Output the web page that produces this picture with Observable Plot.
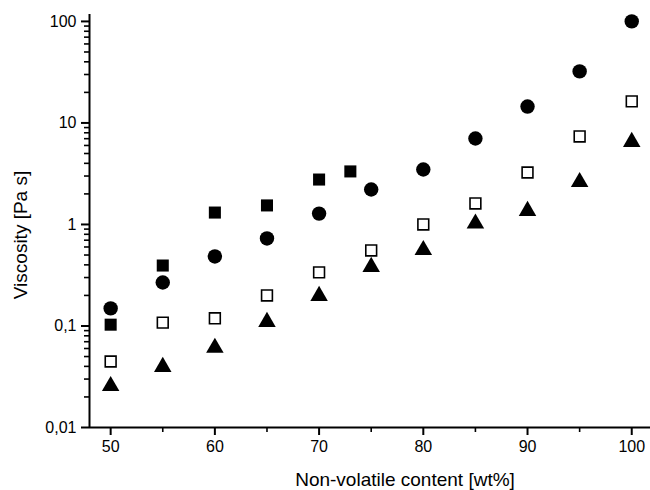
<!DOCTYPE html>
<html>
<head>
<meta charset="utf-8">
<script src="https://cdn.jsdelivr.net/npm/d3@7"></script>
<script src="https://cdn.jsdelivr.net/npm/@observablehq/plot@0.6"></script>
<style>
  html, body { margin: 0; padding: 0; background: #fff; }
</style>
</head>
<body>
<div id="chart"></div>
<script>
// Data
const contents = [50, 55, 60, 65, 70, 75, 80, 85, 90, 95, 100];
const circleVisc = [0.149, 0.268, 0.484, 0.728, 1.28, 2.21, 3.48, 7.03, 14.5, 32.2, 100];
const filledSqContent = [50, 55, 60, 65, 70, 73];
const filledSqVisc = [0.103, 0.394, 1.31, 1.54, 2.77, 3.33];
const openSqVisc = [0.0447, 0.108, 0.119, 0.20, 0.337, 0.555, 1.0, 1.61, 3.25, 7.36, 16.3];
const triangleVisc = [0.0271, 0.0418, 0.0645, 0.116, 0.209, 0.404, 0.593, 1.08, 1.44, 2.77, 6.88];

const xMajorTicks = [50, 60, 70, 80, 90, 100];
const xMinorTicks = [55, 65, 75, 85, 95];
const yMajorTicks = [0.01, 0.1, 1, 10, 100];
const yMinorMultipliers = [2, 3, 4, 5, 6, 7, 8, 9];
const yMinorDecades = [0.01, 0.1, 1, 10];
const xTitle = "Non-volatile content [wt%]";
const yTitle = "Viscosity [Pa s]";

const yMinorTicks = yMinorDecades.flatMap(d => yMinorMultipliers.map(m => +(d * m).toPrecision(3)));

const circles = contents.map((x, i) => ({x, y: circleVisc[i]}));
const filledSquares = filledSqContent.map((x, i) => ({x, y: filledSqVisc[i]}));
const openSquares = contents.map((x, i) => ({x, y: openSqVisc[i]}));
const triangles = contents.map((x, i) => ({x, y: triangleVisc[i]}));

const commaFormat = d => String(d).replace(".", ",");

const xDomain = [47.97, 101.8];
const yDomain = [0.01, 117];

const chart = Plot.plot({
  width: 650,
  height: 490,
  marginLeft: 89,
  marginRight: 0,
  marginTop: 14,
  marginBottom: 63,
  style: {fontFamily: "'Liberation Sans', Arial, sans-serif", fontSize: "16px", color: "black", background: "white"},
  x: {domain: xDomain, axis: null},
  y: {type: "log", domain: yDomain, axis: null},
  marks: [
    // axis lines
    Plot.ruleY([yDomain[0]], {stroke: "black", strokeWidth: 2}),
    Plot.ruleX([xDomain[0]], {stroke: "black", strokeWidth: 2}),
    // x axis
    Plot.axisX({ticks: xMajorTicks, tickSize: 8, tickPadding: 5, strokeWidth: 2, fontSize: 16, label: null, tickFormat: d => String(d)}),
    Plot.axisX({ticks: xMinorTicks, tickSize: 5, strokeWidth: 1.6, tickFormat: () => "", label: null}),
    // y axis
    Plot.axisY({ticks: yMajorTicks, tickSize: 8, tickPadding: 5, strokeWidth: 2, fontSize: 16, label: null, tickFormat: commaFormat}),
    Plot.axisY({ticks: yMinorTicks, tickSize: 5, strokeWidth: 1.6, tickFormat: () => "", label: null}),
    // titles
    Plot.text([xTitle], {text: d => d, frameAnchor: "bottom", textAnchor: "middle", lineAnchor: "middle", dy: 52.5, dx: 35, fontSize: 19, fill: "black"}),
    Plot.text([yTitle], {text: d => d, frameAnchor: "left", textAnchor: "middle", lineAnchor: "middle", dx: -69, dy: 14, rotate: -90, fontSize: 19, fill: "black"}),
    // data
    Plot.dot(circles, {x: "x", y: "y", symbol: "circle", r: 7.2, fill: "black", stroke: "none"}),
    Plot.dot(filledSquares, {x: "x", y: "y", symbol: "square", r: 6.8, fill: "black", stroke: "none"}),
    Plot.dot(openSquares, {x: "x", y: "y", symbol: "square", r: 6.1, fill: "white", stroke: "black", strokeWidth: 1.6}),
    Plot.dot(triangles, {x: "x", y: "y", symbol: "triangle", r: 6.5, dy: 2.5, fill: "black", stroke: "none"})
  ]
});

document.getElementById("chart").appendChild(chart);
</script>
</body>
</html>
